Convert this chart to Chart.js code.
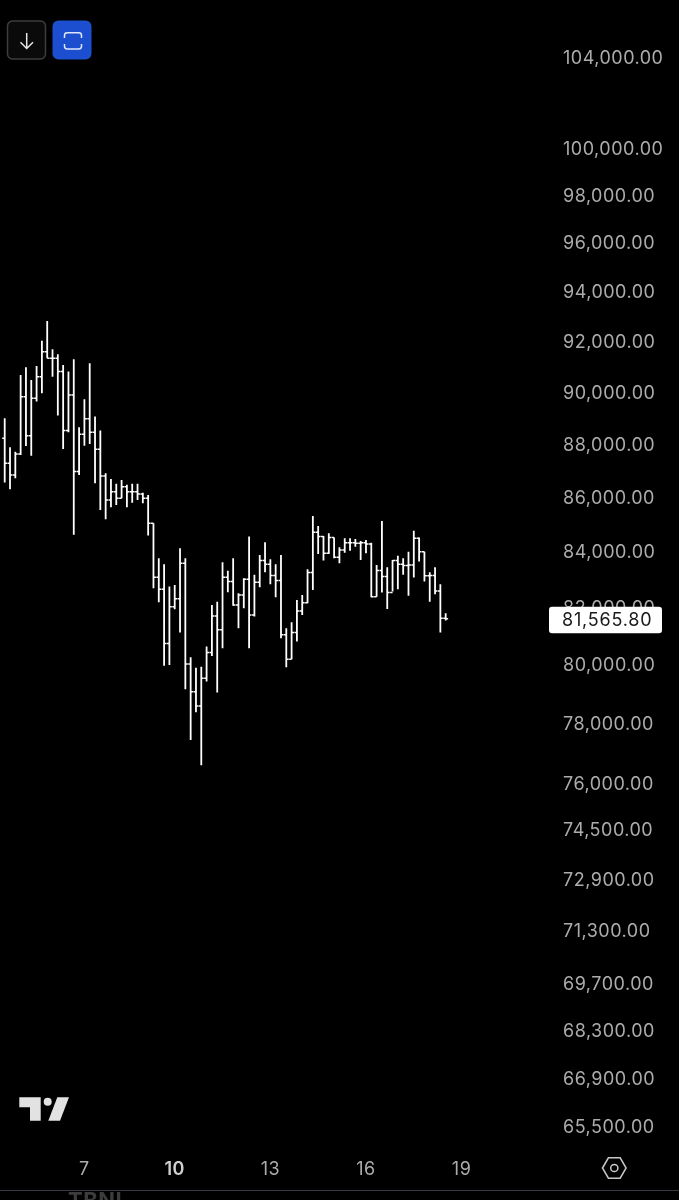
<!DOCTYPE html>
<html>
<head>
<meta charset="utf-8">
<title>Bar chart</title>
<script src="https://cdn.jsdelivr.net/npm/chart.js"></script>
<style>
  html, body { margin: 0; padding: 0; background: #000; overflow: hidden; }
  #wrap { position: relative; width: 679px; height: 1200px; overflow: hidden; }
  #chart { position: absolute; left: 0; top: 0; }
  #overlay { position: absolute; left: 0; top: 0; }
  #clipped { position: absolute; left: 68px; top: 1187px; font: bold 22px Inter, sans-serif; color: #3c3c3c; letter-spacing: 0.5px; }
</style>
</head>
<body>
<div id="wrap">
  <canvas id="chart" width="679" height="1200"></canvas>
  <svg id="overlay" width="679" height="1200" viewBox="0 0 679 1200" fill="none">
    <rect x="7.5" y="21" width="38" height="38" rx="5" stroke="#3d3d3d" stroke-width="1.5" fill="#0a0a0a"/>
    <path d="M26.7 33V48.5M20.5 42.3L26.7 48.5L33 42.3" stroke="#e6e6e6" stroke-width="1.5"/>
    <rect x="52.5" y="20.5" width="39" height="39" rx="6" fill="#1b4fd0"/>
    <path d="M64.5 38V35.5Q64.5 32.8 67.2 32.8H78.8Q81.5 32.8 81.5 35.5V38M64.5 44V46.3Q64.5 49 67.2 49H78.8Q81.5 49 81.5 46.3V44" stroke="#dfe7fa" stroke-width="1.5"/>
    <path d="M19.3 1097.3H40.7V1120.7H30V1107.3H19.3Z" fill="#e2e2e2"/>
    <circle cx="47.7" cy="1101.7" r="4" fill="#e2e2e2"/>
    <path d="M57.3 1097.3H69L60 1120.7H48.3Z" fill="#e2e2e2"/>
    <path d="M602.5 1168L608.4 1157.8H620.2L626.1 1168L620.2 1178.2H608.4Z" stroke="#c8c8c8" stroke-width="1.5"/>
    <circle cx="614.3" cy="1168" r="3.6" stroke="#c8c8c8" stroke-width="1.5"/>
    <line x1="0" y1="1190.5" x2="679" y2="1190.5" stroke="#3a3a46" stroke-width="1"/>
  </svg>
  <div id="clipped">TBNI</div>
</div>
<script>
// 4h OHLC bars
const opens = [88190,87244,86804,87594,89792,88291,89730,90573,91556,91296,91296,90770,88483,89858,86928,88345,88934,88421,87771,86767,85868,86177,85930,86365,86177,86177,86090,85930,85010,83049,82618,80698,81993,82280,83551,79986,79029,78550,79497,80382,81668,81178,83049,82891,82054,82413,82977,81703,82869,83645,83515,83106,82927,81003,80150,81087,81842,82136,83214,84681,84519,83910,84482,83767,84029,84298,84298,84276,84298,84250,82352,83286,83070,82496,83645,83515,83465,83490,84460,83968,83095,83106,82557,81587];
const highs = [88960,87846,87680,90640,90943,90444,90994,91990,92782,91650,91454,91033,90770,91257,88614,89692,91100,89022,88483,86868,86654,86470,86617,86432,86470,86470,86140,86053,85010,83731,83515,82711,82772,84092,83731,80220,79860,79894,80593,82054,82168,83587,83275,83731,82474,83013,84519,83131,83849,84313,83695,83515,83849,81237,81447,82233,82413,83336,85279,84911,84541,84644,84482,84129,84460,84460,84434,84360,84397,84298,83490,85095,83408,83670,83824,83731,83968,84729,84482,83968,83228,83408,82797,81762];
const lows = [86515,86267,86680,87556,87895,87530,89600,89923,91296,90573,89061,87782,88421,84590,86804,87906,87970,86492,85500,85157,85600,85684,85930,85600,85768,85868,85746,84556,82654,82151,79928,79952,81902,81087,79121,77404,78335,76561,79381,80266,79005,80537,82510,82028,81237,81937,80537,81644,82690,83228,82797,82330,80887,79873,80150,80768,81703,82115,82593,83885,83645,83885,83731,83551,83932,84004,84151,83670,83910,82330,82352,82496,81912,82532,82618,83131,82388,83034,83609,82891,82168,82438,81087,81503];
const closes = [87244,86804,87594,89792,88291,89730,90573,91556,91296,91296,90770,88483,89858,86928,88345,88934,88421,87771,86767,85868,86177,85930,86365,86177,86177,86090,85930,85010,83049,82618,80698,81993,82280,83551,79986,79029,78550,79497,80382,81668,81178,83049,82891,82054,82413,82977,81703,82869,83645,83515,83106,82927,81003,80150,81087,81842,82136,83214,84681,84519,83910,84482,83767,84029,84298,84298,84276,84298,84250,82352,83286,83070,82496,83645,83515,83465,83490,84460,83968,83095,83106,82557,81587,81565.8];

const priceTicks = [104000,100000,98000,96000,94000,92000,90000,88000,86000,84000,82000,80000,78000,76000,74500,72900,71300,69700,68300,66900,65500];
const dayLabels = ['7','10','13','16','19'];
const dayBars = [15,32,50,68,86];
const boldBar = 32;
const lastPrice = 81565.8;

const wickPoints = [];
const tickPoints = [];
highs.forEach((h, i) => {
  wickPoints.push({x: i, y: lows[i]}, {x: i, y: h}, {x: i, y: null});
  tickPoints.push({x: i - 0.46, y: opens[i]}, {x: i, y: opens[i]}, {x: i, y: null});
  tickPoints.push({x: i, y: closes[i]}, {x: i + 0.46, y: closes[i]}, {x: i, y: null});
});

const priceLabel = {
  id: 'priceLabel',
  beforeDraw(chart) {
    chart.ctx.letterSpacing = '0.5px';
  },
  afterDraw(chart) {
    const c = chart.ctx;
    const y = chart.scales.y.getPixelForValue(lastPrice);
    c.save();
    c.fillStyle = '#ffffff';
    c.beginPath();
    c.roundRect(549, y - 12, 113, 26.5, 3);
    c.fill();
    c.fillStyle = '#1a1a1a';
    c.font = '18px Inter';
    c.letterSpacing = '0.8px';
    c.textAlign = 'left';
    c.textBaseline = 'middle';
    c.fillText(lastPrice.toLocaleString('en-US', {minimumFractionDigits: 2}), 562, y + 2);
    c.restore();
  }
};

new Chart(document.getElementById('chart'), {
  type: 'line',
  data: {
    datasets: [
      {data: wickPoints, borderColor: '#ffffff', borderWidth: 1.8, pointRadius: 0, tension: 0, spanGaps: false},
      {data: tickPoints, borderColor: '#ffffff', borderWidth: 1.5, pointRadius: 0, tension: 0, spanGaps: false}
    ]
  },
  options: {
    responsive: false,
    animation: false,
    layout: {padding: 0},
    plugins: {legend: {display: false}, tooltip: {enabled: false}},
    scales: {
      x: {
        type: 'linear',
        min: -0.885,
        max: 103.765,
        grid: {display: false, drawTicks: false},
        border: {display: false},
        afterFit(axis) {
          axis.height = 50;
          axis.paddingLeft = 0;
          axis.paddingRight = 0;
        },
        afterBuildTicks(axis) { axis.ticks = dayBars.map(v => ({value: v})); },
        ticks: {
          autoSkip: false,
          maxRotation: 0,
          padding: 9,
          color: ctx => (ctx.tick && ctx.tick.value === boldBar) ? '#cfcfcf' : '#acacac',
          font: ctx => ({family: 'Inter', size: 18, weight: (ctx.tick && ctx.tick.value === boldBar) ? '600' : 'normal'}),
          callback: v => dayLabels[dayBars.indexOf(v)]
        }
      },
      y: {
        type: 'logarithmic',
        position: 'right',
        min: 64824,
        max: 106596,
        grid: {display: false, drawTicks: false},
        border: {display: false},
        afterFit(axis) {
          axis.width = 123;
          axis.paddingTop = 0;
          axis.paddingBottom = 0;
        },
        afterBuildTicks(axis) { axis.ticks = priceTicks.map(v => ({value: v})); },
        ticks: {
          autoSkip: false,
          padding: 7,
          labelOffset: 2,
          color: '#acacac',
          font: {family: 'Inter', size: 18},
          callback: v => Number(v).toLocaleString('en-US', {minimumFractionDigits: 2})
        }
      }
    }
  },
  plugins: [priceLabel]
});
</script>
</body>
</html>
